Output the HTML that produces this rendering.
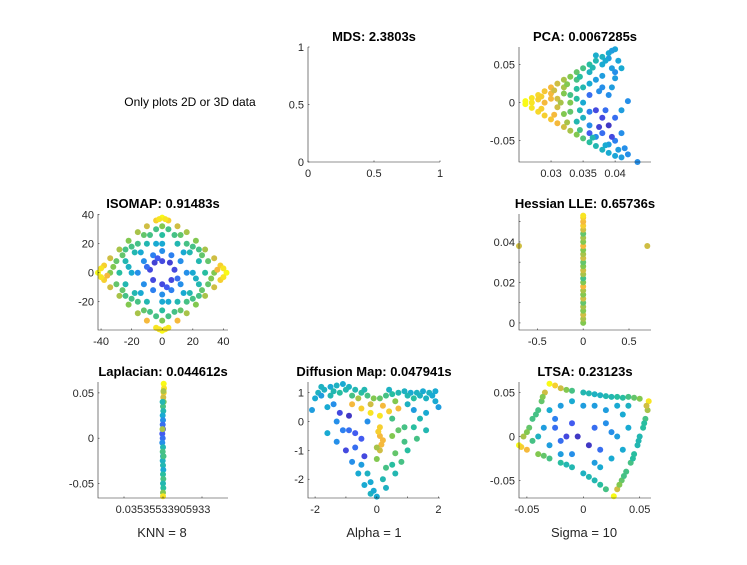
<!DOCTYPE html>
<html><head><meta charset="utf-8"><style>
body{margin:0;background:#fff;}
svg{font-family:"Liberation Sans",sans-serif;}
.t{font-weight:bold;font-size:13px;fill:#000;text-anchor:middle;}
.tk{font-size:11px;fill:#262626;}
</style></head><body>
<svg id="fig" width="747" height="560" viewBox="0 0 747 560" xmlns="http://www.w3.org/2000/svg">
<rect width="747" height="560" fill="#fff"/>
<text x="190" y="106" font-size="12" fill="#000" text-anchor="middle">Only plots 2D or 3D data</text>
<text x="162" y="537" font-size="13" fill="#262626" text-anchor="middle">KNN = 8</text>
<text x="374" y="537" font-size="13" fill="#262626" text-anchor="middle">Alpha = 1</text>
<text x="584" y="537" font-size="13" fill="#262626" text-anchor="middle">Sigma = 10</text>
</svg>
<script>
const pcaPts=[[0.026,0.002,1],[0.027,0.006,.95],[0.028,0.01,.92],[0.029,0.015,.88],[0.030,0.02,.85],[0.031,0.025,.8],[0.032,0.03,.75],[0.033,0.034,.7],[0.034,0.04,.65],[0.035,0.045,.6],[0.036,0.05,.55],[0.037,0.055,.5],[0.038,0.06,.45],[0.039,0.065,.4],[0.040,0.07,.38],[0.0395,0.068,.35],[0.028,0.004,.9],[0.030,0.012,.85],[0.032,0.02,.75],[0.034,0.03,.6],[0.036,0.04,.45],[0.038,0.05,.4],[0.039,0.058,.35],[0.037,0.062,.42],[0.026,-0.002,1],[0.027,-0.007,.95],[0.028,-0.012,.92],[0.029,-0.017,.9],[0.030,-0.022,.88],[0.031,-0.027,.85],[0.032,-0.032,.8],[0.033,-0.037,.75],[0.034,-0.042,.7],[0.035,-0.047,.62],[0.036,-0.052,.55],[0.037,-0.057,.5],[0.038,-0.062,.45],[0.039,-0.066,.4],[0.040,-0.07,.38],[0.041,-0.072,.35],[0.042,-0.068,.3],[0.0435,-0.078,.3],[0.029,0,.85],[0.031,0.005,.8],[0.031,-0.006,.8],[0.033,0.01,.6],[0.033,-0.012,.65],[0.033,0,.7],[0.035,0.02,.5],[0.035,0,.4],[0.035,-0.02,.45],[0.036,-0.03,.3],[0.036,0.01,.2],[0.037,-0.01,.1],[0.037,0.03,.35],[0.038,-0.02,.1],[0.038,-0.04,.2],[0.039,0.01,.3],[0.039,-0.03,.05],[0.040,-0.05,.25],[0.04,0.04,.3],[0.041,-0.01,.35],[0.0415,-0.06,.3],[0.041,0.045,.4],[0.042,0.002,.3],[0.04,0.032,.35],[0.036,-0.04,.15],[0.034,-0.025,.5],[0.034,0.018,.55],[0.027,0,.95],[0.030,0.005,.85],[0.032,-0.015,.7],[0.032,0.012,.7],[0.038,0.02,.3],[0.037,-0.045,.3],[0.039,-0.055,.35],[0.036,0.025,.4],[0.038,0.035,.35],[0.0285,0.008,.9],[0.0305,0.016,.8],[0.0325,0.024,.7],[0.0345,0.034,.55],[0.0365,0.046,.5],[0.0385,0.055,.4],[0.0285,-0.008,.9],[0.0305,-0.016,.85],[0.0325,-0.026,.75],[0.0345,-0.036,.6],[0.0365,-0.046,.5],[0.0385,-0.056,.4],[0.0405,-0.062,.35],[0.0395,-0.045,.1],[0.0375,-0.032,.08],[0.0385,-0.01,.2],[0.0395,0.02,.35],[0.0405,0.055,.38],[0.036,-0.012,.25],[0.034,0.005,.55],[0.0345,-0.01,.5],[0.0375,0.015,.3],[0.04,-0.02,.2],[0.041,-0.04,.3],[0.0315,0.0,.75],[0.0395,0.045,.35]];
const isoPts=[[-42,0,1],[-38,5,.9],[-34,10,.8],[-28,16,.75],[-22,22,.7],[-16,28,.75],[-10,32,.8],[-4,36,.9],[0,38,1],[4,36,.9],[10,32,.8],[16,28,.75],[22,22,.7],[28,16,.75],[34,10,.8],[38,5,.9],[42,0,1],[38,-5,.9],[34,-10,.8],[28,-16,.75],[22,-22,.7],[16,-28,.75],[10,-33,.85],[4,-38,.95],[0,-40,1],[-4,-38,.95],[-10,-33,.85],[-16,-28,.75],[-22,-22,.7],[-28,-16,.75],[-34,-10,.8],[-38,-5,.9],[-28,0,.55],[-24,8,.5],[-18,14,.5],[-10,20,.5],[0,26,.55],[10,20,.5],[18,14,.5],[24,8,.5],[28,0,.55],[24,-8,.5],[18,-14,.5],[10,-20,.5],[0,-26,.55],[-10,-20,.5],[-18,-14,.5],[-24,-8,.5],[-16,0,.3],[-12,8,.3],[-6,12,.25],[0,15,.3],[6,12,.25],[12,8,.3],[16,0,.3],[12,-8,.3],[6,-12,.25],[0,-15,.3],[-6,-12,.25],[-12,-8,.3],[-8,2,.1],[-5,7,.08],[0,8,.1],[5,7,.08],[8,2,.1],[6,-5,.1],[0,-8,.1],[-6,-5,.1],[-34,0,.7],[-30,8,.65],[0,32,.7],[30,8,.65],[34,0,.7],[0,-33,.7],[-30,-8,.65],[30,-8,.65],[-20,0,.4],[20,0,.4],[0,20,.4],[0,-20,.4],[-16,20,.6],[16,20,.6],[-16,-20,.6],[16,-20,.6],[-8,26,.6],[8,26,.6],[-8,-27,.6],[8,-27,.6],[-24,16,.6],[24,16,.6],[-24,-16,.6],[24,-16,.6],[-40,3,.95],[-40,-3,.95],[40,3,.95],[40,-3,.95],[-2,37,.95],[2,37,.95],[-2,-39,.95],[2,-39,.95],[-36,-2,.85],[36,2,.85],[-32,4,.7],[32,-4,.7],[-26,12,.65],[26,12,.65],[-26,-12,.65],[26,-12,.65],[-20,18,.6],[20,18,.6],[-20,-18,.6],[20,-18,.6],[-12,26,.65],[12,26,.65],[-12,-26,.65],[12,-26,.65],[-4,30,.6],[4,30,.6],[-4,-30,.6],[4,-30,.6],[-22,4,.45],[22,-4,.45],[-14,14,.4],[14,14,.4],[-14,-14,.4],[14,-14,.4],[-4,20,.4],[4,-20,.4],[-10,4,.2],[10,-4,.2],[-3,10,.15],[3,-10,.15]];
const hesPts=[[-0.7,0.038,.8],[0.7,0.038,.8],[0,0,.7],[0,0.002,.75],[0,0.004,.8],[0,0.006,.7],[0,0.008,.75],[0,0.010,.65],[0,0.012,.8],[0,0.014,.7],[0,0.016,.75],[0,0.018,.85],[0,0.020,.7],[0,0.022,.6],[0,0.024,.75],[0,0.026,.8],[0,0.028,.7],[0,0.030,.65],[0,0.032,.8],[0,0.034,.75],[0,0.036,.7],[0,0.038,.85],[0,0.040,.7],[0,0.042,.75],[0,0.044,.65],[0,0.046,.8],[0,0.048,.9],[0,0.050,.85],[0,0.052,.9],[0,0.053,.95]];
const lapPts=[[0.01,0.06,1],[0.015,0.055,.95],[0.01,0.05,.9],[0.005,0.045,.8],[0.01,0.04,.7],[0,0.035,.6],[0.005,0.03,.5],[-0.005,0.025,.4],[0,0.02,.3],[-0.005,0.015,.2],[0,0.01,.1],[-0.01,0.005,.15],[-0.005,0,.2],[-0.01,-0.005,.3],[0,-0.01,.5],[-0.005,-0.015,.6],[0,-0.02,.4],[-0.005,-0.025,.45],[0,-0.03,.5],[0.005,-0.035,.4],[0,-0.04,.55],[0.005,-0.045,.6],[0,-0.05,.5],[0.005,-0.055,.55],[0,-0.06,.7],[0,-0.064,.95],[0.008,0.052,.75],[-0.008,0.01,.75],[0.008,-0.02,.6],[-0.006,0.04,.5]];
const difPts=[[-1.9,1.0,.45],[-1.7,1.1,.45],[-1.5,1.2,.4],[-1.3,1.25,.45],[-1.1,1.3,.4],[-0.9,1.2,.45],[-0.7,1.1,.5],[-0.5,1.0,.55],[-0.3,0.9,.6],[-0.1,0.8,.7],[0.1,0.8,.65],[0.3,0.9,.6],[0.5,0.95,.55],[0.7,1.0,.5],[0.9,1.05,.45],[1.1,1.0,.4],[1.3,1.0,.45],[1.5,1.05,.4],[1.7,1.0,.45],[1.9,1.05,.4],[-1.8,0.9,.35],[-1.5,0.9,.5],[-1.2,1.0,.55],[-0.8,0.9,.6],[1.2,0.8,.55],[1.6,0.8,.45],[1.9,0.7,.4],[-2.1,0.4,.35],[-1.6,0.5,.4],[-0.8,0.6,.85],[-0.5,0.45,.9],[-0.2,0.3,.95],[0.1,0.2,.95],[0.4,0.35,.9],[0.7,0.45,.85],[-1.2,0.3,.1],[-0.9,0.2,.05],[1.2,0.4,.35],[1.6,0.3,.4],[0.1,-0.2,.9],[0.1,-0.5,.85],[0.15,-0.8,.85],[0.1,-1.0,.8],[-1.6,-0.4,.4],[-1.3,-0.7,.3],[-1.0,-1.0,.1],[-0.8,-1.4,.3],[-0.6,-1.8,.4],[-0.4,-2.2,.4],[-0.2,-2.5,.45],[1.6,-0.3,.5],[1.3,-0.6,.6],[1.0,-1.0,.55],[0.8,-1.4,.6],[0.6,-1.8,.5],[0.3,-2.3,.45],[0,-2.6,.4],[-0.9,-0.3,.2],[-0.5,-0.6,.15],[-0.4,-1.2,.1],[0.5,-0.5,.7],[0.6,-1.1,.65],[0.3,-1.6,.6],[-0.3,-1.8,.45],[0.9,-0.2,.6],[-1.3,0.0,.3],[1.4,0.1,.5],[0.0,-1.3,.7],[-0.3,0.0,.3],[0.5,0.1,.6],[-1.8,1.2,.45],[-1.4,1.05,.5],[-1.0,1.1,.5],[-0.6,0.8,.75],[-0.2,0.6,.8],[0.2,0.55,.85],[0.6,0.7,.7],[1.0,0.9,.5],[1.4,0.9,.45],[1.8,0.9,.4],[2.0,0.5,.35],[-2.0,0.8,.4],[-0.4,1.1,.5],[0.4,1.1,.45],[-1.4,0.6,.3],[1.0,0.6,.45],[-1.1,-0.3,.25],[1.2,-0.2,.55],[-0.7,-0.9,.2],[0.9,-0.7,.6],[-0.5,-1.5,.35],[0.5,-1.5,.55],[-0.2,-2.1,.4],[0.2,-2.0,.5],[0.05,-0.35,.9],[0.2,-0.65,.85],[0.0,-0.9,.75],[-0.1,-2.4,.4],[-0.7,-0.4,.15],[0.7,-0.3,.65]];
const ltsaPts=[[-0.03,0.06,1],[-0.02,0.055,.8],[-0.01,0.052,.6],[0,0.05,.5],[0.01,0.048,.45],[0.02,0.046,.5],[0.03,0.045,.55],[0.04,0.045,.6],[0.05,0.043,.7],[0.058,0.04,.95],[0.057,0.03,.75],[0.055,0.02,.6],[0.053,0.01,.55],[0.05,0,.5],[0.048,-0.01,.5],[0.045,-0.02,.55],[0.042,-0.03,.6],[0.038,-0.04,.6],[0.034,-0.05,.65],[0.03,-0.06,.8],[0.027,-0.068,1],[0.02,-0.06,.6],[0.01,-0.05,.5],[0,-0.042,.45],[-0.01,-0.035,.5],[-0.02,-0.03,.55],[-0.03,-0.025,.6],[-0.04,-0.02,.7],[-0.05,-0.015,.85],[-0.057,-0.01,1],[-0.053,0,.75],[-0.048,0.01,.65],[-0.045,0.02,.6],[-0.04,0.03,.6],[-0.037,0.04,.65],[-0.034,0.05,.8],[-0.02,0.035,.35],[0,0.035,.35],[0.02,0.03,.35],[0.035,0.025,.4],[0.03,0,.35],[0.025,-0.025,.4],[0.01,-0.03,.35],[-0.01,-0.02,.3],[-0.03,-0.01,.35],[-0.035,0.01,.35],[-0.025,0.02,.25],[-0.01,0.015,.15],[-0.005,0,.05],[0.005,-0.01,.05],[-0.015,0,.1],[0.01,0.01,.2],[0.015,-0.015,.2],[0.02,0.015,.3],[-0.02,-0.005,.2],[0.04,0.035,.45],[-0.045,-0.005,.6],[-0.025,0.058,.9],[-0.015,0.053,.7],[0.005,0.049,.5],[0.015,0.047,.45],[0.025,0.045,.5],[0.035,0.044,.55],[0.045,0.044,.65],[0.056,0.035,.8],[0.054,0.015,.55],[0.049,-0.005,.5],[0.044,-0.025,.55],[0.036,-0.045,.6],[0.032,-0.055,.7],[0.015,-0.055,.55],[0.005,-0.046,.5],[-0.015,-0.032,.5],[-0.035,-0.022,.65],[-0.055,-0.012,.9],[-0.05,0.005,.7],[-0.042,0.025,.6],[-0.036,0.045,.7],[-0.01,0.04,.4],[0.01,0.035,.35],[0.03,0.035,.4],[0.04,0.01,.4],[0.035,-0.015,.4],[0.015,-0.035,.4],[-0.02,-0.02,.35],[-0.04,0,.45],[-0.03,0.03,.4],[0.025,0.005,.3],[-0.025,0.01,.2]];

const svg=document.getElementById('fig');
const NS='http://www.w3.org/2000/svg';
const stops=[[0,62,38,168],[0.13,70,84,240],[0.27,40,135,240],[0.4,25,170,210],[0.55,40,190,160],[0.7,130,200,80],[0.85,245,185,60],[1,249,251,21]];
function parula(c){for(let i=1;i<stops.length;i++){if(c<=stops[i][0]){const a=stops[i-1],b=stops[i],t=(c-a[0])/(b[0]-a[0]);return `rgb(${[1,2,3].map(k=>Math.round(a[k]+(b[k]-a[k])*t)).join(',')})`;}}return 'rgb(249,251,21)';}
function el(tag,attrs,parent){const e=document.createElementNS(NS,tag);for(const k in attrs)e.setAttribute(k,attrs[k]);(parent||svg).appendChild(e);return e;}
function panel(o){
 const g=el('g',{});
 
 
 const sx=v=>o.x0+(v-o.xd[0])/(o.xd[1]-o.xd[0])*(o.x1-o.x0);
 const sy=v=>o.y1-(v-o.yd[0])/(o.yd[1]-o.yd[0])*(o.y1-o.y0);
 const t=el('text',{x:(o.x0+o.x1)/2,y:o.y0-6,class:'t'},g);t.textContent=o.title;
 
 
 (o.pts||[]).forEach(p=>{const c=el('circle',{cx:sx(p[0]).toFixed(1),cy:sy(p[1]).toFixed(1),r:3,fill:parula(p[2])},g);
  
  });
 const ax=el('path',{d:`M${o.x0},${o.y0}V${o.y1}H${o.x1}`,stroke:'#262626','stroke-width':0.6,fill:'none'},g);
 
 
 o.xt.forEach((v,i)=>{const x=sx(v);el('line',{x1:x,x2:x,y1:o.y1,y2:o.y1-1.5,stroke:'#262626','stroke-width':0.6},g);
  if(o.xl[i]!==''){const tx=el('text',{x:x,y:o.y1+15,class:'tk','text-anchor':'middle'},g);tx.textContent=o.xl[i];
  
  }});
 o.yt.forEach((v,i)=>{const y=sy(v);el('line',{x1:o.x0,x2:o.x0+1.5,y1:y,y2:y,stroke:'#262626','stroke-width':0.6},g);
  if(o.yl[i]!==''){const ty=el('text',{x:o.x0-4,y:y+4,class:'tk','text-anchor':'end'},g);ty.textContent=o.yl[i];
  
  }});
}
panel({name:'mds',title:'MDS: 2.3803s',x0:308,x1:440,y0:47,y1:162,xd:[0,1],yd:[0,1],xt:[0,.5,1],xl:['0','0.5','1'],yt:[0,.5,1],yl:['0','0.5','1']});
panel({name:'pca',title:'PCA: 0.0067285s',x0:519,x1:651,y0:47,y1:162,xd:[0.025,0.0456],yd:[-0.078,0.073],xt:[0.03,0.035,0.04],xl:['0.03','0.035','0.04'],yt:[-0.05,0,0.05],yl:['-0.05','0','0.05'],pts:pcaPts});
panel({name:'isomap',title:'ISOMAP: 0.91483s',x0:98,x1:228,y0:214,y1:330,xd:[-42,43],yd:[-39.5,40.5],xt:[-40,-20,0,20,40],xl:['-40','-20','0','20','40'],yt:[-20,0,20,40],yl:['-20','0','20','40'],pts:isoPts});
panel({name:'hessian-lle',title:'Hessian LLE: 0.65736s',x0:519,x1:651,y0:214,y1:330,xd:[-0.7,0.74],yd:[-0.0035,0.0538],xt:[-0.5,0,0.5],xl:['-0.5','0','0.5'],yt:[0,0.01,0.02,0.03,0.04,0.05],yl:['0','','0.02','','0.04',''],pts:hesPts});
panel({name:'laplacian',title:'Laplacian: 0.044612s',x0:98,x1:228,y0:382,y1:498,xd:[-1,1],yd:[-0.066,0.062],xt:[-0.6,0,0.6],xl:['','0.03535533905933',''],yt:[-0.05,0,0.05],yl:['-0.05','0','0.05'],pts:lapPts});
panel({name:'diffusion-map',title:'Diffusion Map: 0.047941s',x0:308,x1:440,y0:382,y1:498,xd:[-2.23,2.05],yd:[-2.65,1.37],xt:[-2,-1,0,1,2],xl:['-2','','0','','2'],yt:[-2,-1,0,1],yl:['-2','-1','0','1'],pts:difPts});
panel({name:'ltsa',title:'LTSA: 0.23123s',x0:519,x1:651,y0:382,y1:498,xd:[-0.057,0.06],yd:[-0.07,0.062],xt:[-0.05,0,0.05],xl:['-0.05','0','0.05'],yt:[-0.05,0,0.05],yl:['-0.05','0','0.05'],pts:ltsaPts});
</script>
</body></html>
